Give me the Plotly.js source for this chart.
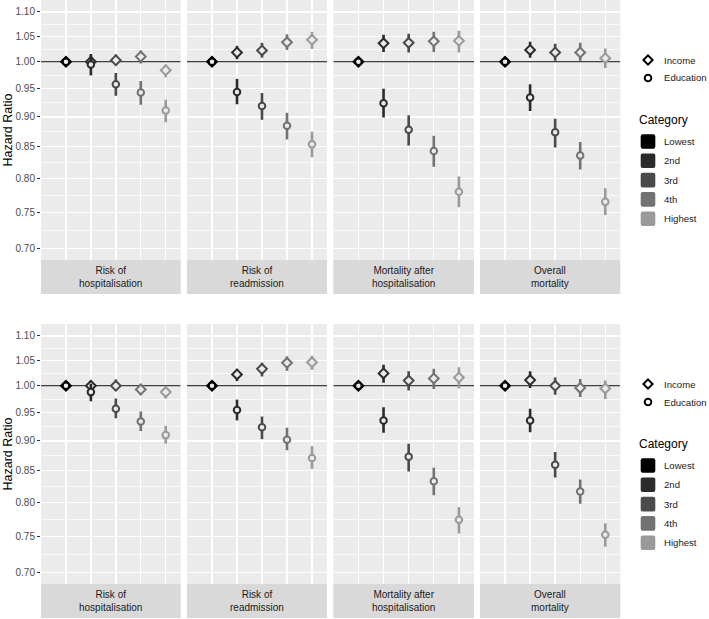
<!DOCTYPE html>
<html>
<head>
<meta charset="utf-8">
<script src="https://cdn.plot.ly/plotly-3.0.1.min.js"></script>
<style>html,body{margin:0;padding:0;background:#fff;}#chart{width:709px;height:619px;}</style>
</head>
<body>
<div id="chart"></div>
<script>
// ---------- data ----------
const categories = ['Lowest', '2nd', '3rd', '4th', 'Highest'];
const outcomes = ['Risk of<br>hospitalisation', 'Risk of<br>readmission', 'Mortality after<br>hospitalisation', 'Overall<br>mortality'];
const variables = ['Income', 'Education'];
const yTicks = [0.70, 0.75, 0.80, 0.85, 0.90, 0.95, 1.00, 1.05, 1.10];
const yTickText = ['0.70', '0.75', '0.80', '0.85', '0.90', '0.95', '1.00', '1.05', '1.10'];

// Top model: rows = outcomes, columns = categories
const topIncomeHR = [
  [1, 1.000, 1.003, 1.010, 0.984],
  [1, 1.018, 1.022, 1.038, 1.043],
  [1, 1.036, 1.037, 1.040, 1.041],
  [1, 1.023, 1.018, 1.018, 1.007]];
const topIncomeLo = [
  [1, 0.989, 0.993, 0.997, 0.971],
  [1, 1.005, 1.008, 1.023, 1.025],
  [1, 1.019, 1.018, 1.019, 1.018],
  [1, 1.008, 1.002, 1.002, 0.988]];
const topIncomeHi = [
  [1, 1.012, 1.014, 1.022, 0.995],
  [1, 1.031, 1.037, 1.054, 1.059],
  [1, 1.053, 1.055, 1.059, 1.061],
  [1, 1.039, 1.035, 1.037, 1.026]];
const topEduHR = [
  [1, 0.995, 0.958, 0.943, 0.911],
  [1, 0.944, 0.919, 0.885, 0.854],
  [1, 0.924, 0.878, 0.843, 0.780],
  [1, 0.934, 0.874, 0.836, 0.765]];
const topEduLo = [
  [1, 0.974, 0.937, 0.921, 0.891],
  [1, 0.922, 0.895, 0.862, 0.833],
  [1, 0.899, 0.852, 0.818, 0.757],
  [1, 0.910, 0.849, 0.814, 0.746]];
const topEduHi = [
  [1, 1.015, 0.979, 0.964, 0.930],
  [1, 0.968, 0.942, 0.907, 0.875],
  [1, 0.950, 0.903, 0.868, 0.803],
  [1, 0.958, 0.897, 0.858, 0.785]];

// Bottom model
const botIncomeHR = [
  [1, 1.000, 1.000, 0.993, 0.988],
  [1, 1.022, 1.033, 1.045, 1.046],
  [1, 1.024, 1.010, 1.014, 1.016],
  [1, 1.011, 1.000, 0.996, 0.995]];
const botIncomeLo = [
  [1, 0.990, 0.990, 0.982, 0.976],
  [1, 1.009, 1.018, 1.029, 1.031],
  [1, 1.006, 0.991, 0.994, 0.995],
  [1, 0.996, 0.983, 0.979, 0.975]];
const botIncomeHi = [
  [1, 1.010, 1.012, 1.004, 0.998],
  [1, 1.033, 1.045, 1.058, 1.059],
  [1, 1.041, 1.028, 1.033, 1.036],
  [1, 1.028, 1.016, 1.013, 1.010]];
const botEduHR = [
  [1, 0.988, 0.957, 0.934, 0.910],
  [1, 0.955, 0.924, 0.902, 0.871],
  [1, 0.936, 0.873, 0.833, 0.774],
  [1, 0.936, 0.860, 0.817, 0.752]];
const botEduLo = [
  [1, 0.971, 0.940, 0.917, 0.895],
  [1, 0.936, 0.903, 0.884, 0.853],
  [1, 0.914, 0.849, 0.811, 0.754],
  [1, 0.915, 0.839, 0.798, 0.735]];
const botEduHi = [
  [1, 1.004, 0.976, 0.952, 0.926],
  [1, 0.974, 0.943, 0.923, 0.891],
  [1, 0.960, 0.895, 0.855, 0.793],
  [1, 0.957, 0.881, 0.836, 0.769]];

// ---------- style / layout ----------
const W = 709, H = 619;
const FONT = '"Liberation Sans", Arial, Helvetica, sans-serif';
const catColors = ['#000000', '#2b2b2b', '#4a4a4a', '#727272', '#9a9a9a'];
const varSymbols = ['diamond', 'circle'];
const panelX = [[41, 180.7], [187, 327], [333.3, 474], [480, 620.3]];
const rowY = [[0, 260], [324, 584]];
const stripH = 34;
const yRange = [Math.log10(0.6845), Math.log10(1.1255)];
const xRange = [0, 5.6];

const px = x => x / W;
const py = y => 1 - y / H;

const minorVals = [];
for (let i = 0; i < yTicks.length - 1; i++) minorVals.push(Math.sqrt(yTicks[i] * yTicks[i + 1]));
minorVals.push(Math.sqrt(1.10 * 1.15));

const rowsData = [
  [[topIncomeHR, topIncomeLo, topIncomeHi], [topEduHR, topEduLo, topEduHi]],
  [[botIncomeHR, botIncomeLo, botIncomeHi], [botEduHR, botEduLo, botEduHi]]
];

const traces = [];
const layout = {
  width: W, height: H,
  margin: {l: 0, r: 0, t: 0, b: 0, pad: 0},
  paper_bgcolor: '#ffffff',
  plot_bgcolor: '#ebebeb',
  showlegend: false,
  hovermode: false,
  font: {family: FONT, size: 10, color: '#1a1a1a'},
  shapes: [],
  annotations: []
};

for (let r = 0; r < 2; r++) {
  for (let c = 0; c < 4; c++) {
    const idx = r * 4 + c + 1;
    const xa = 'x' + (idx === 1 ? '' : idx);
    const ya = 'y' + (idx === 1 ? '' : idx);
    const xk = 'xaxis' + (idx === 1 ? '' : idx);
    const yk = 'yaxis' + (idx === 1 ? '' : idx);
    layout[xk] = {
      domain: [px(panelX[c][0]), px(panelX[c][1])],
      range: xRange, anchor: ya, fixedrange: true,
      tickmode: 'array', tickvals: [1, 2, 3, 4, 5], ticktext: categories,
      showticklabels: false, ticks: '',
      showgrid: true, gridcolor: '#ffffff', gridwidth: 1.4,
      zeroline: false, showline: false
    };
    layout[yk] = {
      domain: [py(rowY[r][1]), py(rowY[r][0])],
      type: 'log', range: yRange, anchor: xa, fixedrange: true,
      tickmode: 'array', tickvals: yTicks, ticktext: yTickText,
      showticklabels: c === 0, ticks: c === 0 ? 'outside' : '',
      ticklen: 3, tickwidth: 1, tickcolor: '#333333',
      tickfont: {family: FONT, size: 10, color: '#4d4d4d'},
      showgrid: true, gridcolor: '#ffffff', gridwidth: 1.4,
      minor: {tickmode: 'array', tickvals: minorVals, showgrid: true, gridcolor: '#ffffff', gridwidth: 0.7, ticks: ''},
      zeroline: false, showline: false
    };
    // reference line at HR = 1
    traces.push({
      type: 'scatter', mode: 'lines', x: xRange, y: [1, 1], xaxis: xa, yaxis: ya,
      line: {color: '#000000', width: 1.1}, hoverinfo: 'skip', cliponaxis: true
    });
    // points with CIs
    for (let v = 0; v < 2; v++) {
      const [hr, lo, hi] = rowsData[r][v];
      for (let k = 0; k < categories.length; k++) {
        const y = hr[c][k];
        const hasErr = hi[c][k] !== lo[c][k];
        traces.push({
          type: 'scatter', mode: 'markers',
          name: variables[v] + ' ' + categories[k],
          x: [k + 1], y: [y], xaxis: xa, yaxis: ya,
          marker: {symbol: varSymbols[v], size: v === 0 ? 7.5 : 6.5, color: '#ebebeb',
                   line: {color: catColors[k], width: 2}},
          error_y: {type: 'data', symmetric: false, visible: hasErr,
                    array: [hi[c][k] - y], arrayminus: [y - lo[c][k]],
                    color: catColors[k], thickness: 2.6, width: 0},
          cliponaxis: false
        });
      }
    }
    // strip
    const sx0 = panelX[c][0], sx1 = panelX[c][1], sy0 = rowY[r][1], sy1 = rowY[r][1] + stripH;
    layout.shapes.push({type: 'rect', xref: 'paper', yref: 'paper',
      x0: px(sx0), x1: px(sx1), y0: py(sy1), y1: py(sy0),
      fillcolor: '#d9d9d9', line: {width: 0}, layer: 'below'});
    layout.annotations.push({xref: 'paper', yref: 'paper', x: px((sx0 + sx1) / 2), y: py((sy0 + sy1) / 2),
      text: outcomes[c], showarrow: false, xanchor: 'center', yanchor: 'middle', align: 'center',
      font: {family: FONT, size: 10, color: '#1a1a1a'}});
  }
  // y-axis title
  layout.annotations.push({xref: 'paper', yref: 'paper', x: px(7.5), y: py((rowY[r][0] + rowY[r][1]) / 2),
    text: 'Hazard Ratio', textangle: -90, showarrow: false, xanchor: 'center', yanchor: 'middle',
    borderpad: 0, font: {family: FONT, size: 12.5, color: '#000000'}});

  // legends
  const off = r === 0 ? 0 : 324;
  const mx = 648;
  // Income diamond
  const dy = 60 + off, dr = 4.6;
  layout.shapes.push({type: 'path', xref: 'paper', yref: 'paper',
    path: `M${px(mx)},${py(dy - dr)} L${px(mx + dr)},${py(dy)} L${px(mx)},${py(dy + dr)} L${px(mx - dr)},${py(dy)} Z`,
    fillcolor: '#ffffff', line: {color: '#000000', width: 2}});
  layout.annotations.push({xref: 'paper', yref: 'paper', x: px(663), y: py(dy), text: variables[0],
    showarrow: false, xanchor: 'left', yanchor: 'middle', borderpad: 0,
    font: {family: FONT, size: 9.6, color: '#1a1a1a'}});
  // Education circle
  const cy = 78 + off, cr = 3.3;
  layout.shapes.push({type: 'circle', xref: 'paper', yref: 'paper',
    x0: px(mx - cr), x1: px(mx + cr), y0: py(cy + cr), y1: py(cy - cr),
    fillcolor: '#ffffff', line: {color: '#000000', width: 2}});
  layout.annotations.push({xref: 'paper', yref: 'paper', x: px(663), y: py(cy), text: variables[1],
    showarrow: false, xanchor: 'left', yanchor: 'middle', borderpad: 0,
    font: {family: FONT, size: 9.6, color: '#1a1a1a'}});
  // Category title
  layout.annotations.push({xref: 'paper', yref: 'paper', x: px(638), y: py(120 + off), text: 'Category',
    showarrow: false, xanchor: 'left', yanchor: 'middle', borderpad: 0,
    font: {family: FONT, size: 12, color: '#000000'}});
  for (let k = 0; k < categories.length; k++) {
    const ky = 141.5 + k * 19.3 + off, h = 7.3, rr = 2;
    const x0 = mx - h, x1 = mx + h, y0 = ky - h, y1 = ky + h;
    const path = `M${px(x0 + rr)},${py(y0)} L${px(x1 - rr)},${py(y0)} Q${px(x1)},${py(y0)} ${px(x1)},${py(y0 + rr)} ` +
      `L${px(x1)},${py(y1 - rr)} Q${px(x1)},${py(y1)} ${px(x1 - rr)},${py(y1)} L${px(x0 + rr)},${py(y1)} ` +
      `Q${px(x0)},${py(y1)} ${px(x0)},${py(y1 - rr)} L${px(x0)},${py(y0 + rr)} Q${px(x0)},${py(y0)} ${px(x0 + rr)},${py(y0)} Z`;
    layout.shapes.push({type: 'path', xref: 'paper', yref: 'paper', path: path,
      fillcolor: catColors[k], line: {width: 0}});
    layout.annotations.push({xref: 'paper', yref: 'paper', x: px(663), y: py(ky), text: categories[k],
      showarrow: false, xanchor: 'left', yanchor: 'middle', borderpad: 0,
      font: {family: FONT, size: 9.6, color: '#1a1a1a'}});
  }
}

Plotly.newPlot('chart', traces, layout, {staticPlot: true, displayModeBar: false});
</script>
</body>
</html>
